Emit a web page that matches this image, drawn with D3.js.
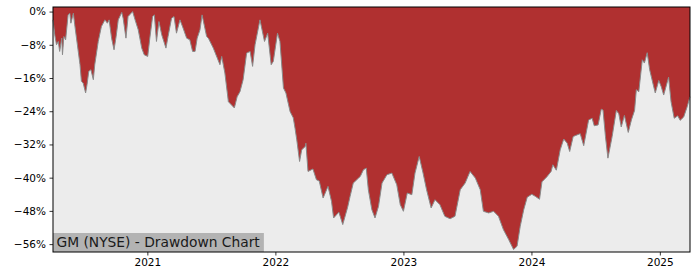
<!DOCTYPE html>
<html>
  <head>
    <meta charset="utf-8" />
    <style>
      body { margin: 0; background: #ffffff; }
      #chart { width: 700px; height: 280px; }
      text { font-family: "DejaVu Sans", sans-serif; }
    </style>
  </head>
  <body>
    <div id="chart"></div>
    <script src="https://cdnjs.cloudflare.com/ajax/libs/d3/7.8.5/d3.min.js"></script>
    <script>
    // drawdown values (percent below running peak)
    var dates = [
      "2020-04-07","2020-04-12","2020-04-17","2020-04-22","2020-04-26","2020-05-02","2020-05-04","2020-05-08",
      "2020-05-13","2020-05-20","2020-05-25","2020-05-28","2020-06-04","2020-06-08","2020-06-13","2020-06-18",
      "2020-06-23","2020-06-27","2020-07-02","2020-07-09","2020-07-13","2020-07-18","2020-07-24","2020-07-31",
      "2020-08-04","2020-08-14","2020-08-23","2020-09-02","2020-09-09","2020-09-14","2020-09-21","2020-09-28",
      "2020-10-04","2020-10-10","2020-10-20","2020-10-24","2020-11-01","2020-11-07","2020-11-20","2020-11-27",
      "2020-12-06","2020-12-16","2020-12-23","2021-01-02","2021-01-08","2021-01-16","2021-01-21","2021-01-27",
      "2021-02-03","2021-02-11","2021-02-23","2021-03-01","2021-03-11","2021-03-18","2021-03-25","2021-04-04",
      "2021-04-13","2021-04-23","2021-05-02","2021-05-10","2021-05-17","2021-05-23","2021-05-31","2021-06-06",
      "2021-06-14","2021-06-19","2021-06-24","2021-07-08","2021-07-27","2021-08-01","2021-08-10","2021-08-20",
      "2021-09-06","2021-09-14","2021-09-22","2021-10-01","2021-10-11","2021-10-21","2021-10-28","2021-11-04",
      "2021-11-18","2021-12-01","2021-12-10","2021-12-20","2021-12-26","2022-01-07","2022-01-14","2022-01-24",
      "2022-01-31","2022-02-12","2022-02-21","2022-02-26","2022-03-03","2022-03-11","2022-03-17","2022-03-27",
      "2022-03-29","2022-04-04","2022-04-18","2022-04-28","2022-05-06","2022-05-17","2022-05-31","2022-06-10",
      "2022-06-16","2022-07-01","2022-07-12","2022-07-26","2022-08-02","2022-08-11","2022-08-16","2022-08-26",
      "2022-08-31","2022-09-09","2022-09-17","2022-09-23","2022-10-03","2022-10-12","2022-10-22","2022-11-01",
      "2022-11-15","2022-11-29","2022-12-13","2022-12-23","2023-01-01","2023-01-12","2023-01-25","2023-02-03",
      "2023-02-15","2023-02-26","2023-03-08","2023-03-21","2023-04-01","2023-04-15","2023-04-29","2023-05-14",
      "2023-05-28","2023-06-12","2023-06-26","2023-07-10","2023-07-25","2023-08-08","2023-08-17","2023-09-01",
      "2023-09-15","2023-09-29","2023-10-13","2023-10-28","2023-11-11","2023-11-21","2023-11-30","2023-12-10",
      "2023-12-20","2024-01-02","2024-01-12","2024-01-24","2024-01-31","2024-02-14","2024-02-26","2024-03-02",
      "2024-03-12","2024-03-23","2024-04-02","2024-04-12","2024-04-19","2024-04-29","2024-05-10","2024-05-19",
      "2024-05-29","2024-06-12","2024-06-22","2024-06-28","2024-07-09","2024-07-18","2024-07-23","2024-07-30",
      "2024-08-06","2024-08-18","2024-08-30","2024-09-06","2024-09-13","2024-09-22","2024-10-03","2024-10-12",
      "2024-10-21","2024-10-26","2024-11-02","2024-11-12","2024-11-18","2024-11-26","2024-12-03","2024-12-12",
      "2024-12-19","2024-12-29","2025-01-05","2025-01-12","2025-01-26","2025-02-02","2025-02-11","2025-02-21",
      "2025-02-28","2025-03-10","2025-03-20","2025-03-28"
    ];
    var drawdown = [
      -2.0, -5.6, -8.0, -7.2, -9.6, -6.4, -10.4, -6.0,
      -6.8, -0.8, -0.4, -2.8, -0.4, -3.2, -6.4, -9.6,
      -12.8, -16.8, -17.2, -19.6, -17.6, -14.4, -14.0, -16.4,
      -12.8, -7.2, -3.6, -2.0, -2.8, -2.0, -6.4, -9.2,
      -6.0, -2.0, -0.2, -1.6, -6.4, -1.2, 0.0, -2.0,
      -4.4, -8.8, -10.4, -10.8, -6.4, -1.2, -0.8, -7.2,
      -2.4, -5.6, -8.8, -6.0, -1.6, -1.2, -5.2, -2.0,
      -4.0, -6.4, -6.8, -9.6, -9.6, -6.4, -4.4, -0.8,
      -4.0, -6.0, -6.4, -8.8, -12.8, -10.8, -14.8, -21.7,
      -23.2, -20.5, -19.3, -16.4, -10.0, -9.6, -13.2, -8.0,
      -2.0, -7.2, -5.2, -12.8, -12.0, -5.2, -7.2, -18.4,
      -19.6, -24.1, -25.6, -28.1, -30.9, -36.1, -33.3, -32.5,
      -31.7, -38.5, -37.9, -40.5, -40.8, -44.9, -42.1, -45.7,
      -49.7, -48.3, -51.3, -47.1, -44.5, -41.3, -40.9, -40.1,
      -39.7, -38.1, -37.7, -42.9, -47.7, -49.7, -46.9, -41.3,
      -39.3, -38.9, -41.7, -46.5, -48.1, -43.7, -44.1, -38.9,
      -34.9, -38.9, -42.9, -47.3, -45.3, -46.5, -49.3, -49.9,
      -49.3, -42.9, -41.3, -38.5, -40.1, -42.9, -48.1, -48.5,
      -48.1, -49.3, -52.5, -54.9, -57.3, -56.5, -51.7, -47.7,
      -44.7, -44.0, -44.5, -45.2, -41.0, -39.8, -38.5, -36.9,
      -38.2, -33.3, -30.7, -31.7, -33.7, -30.1, -29.7, -29.4,
      -32.3, -26.1, -25.7, -27.5, -27.3, -23.5, -23.7, -30.1,
      -35.3, -30.1, -23.8, -24.6, -27.8, -25.0, -29.1, -26.1,
      -23.8, -18.8, -19.3, -11.6, -12.4, -9.9, -14.0, -17.2,
      -19.6, -16.6, -18.1, -20.1, -15.8, -21.7, -25.7, -25.1,
      -26.2, -25.4, -22.9, -20.5
    ];
    var yTicks = [0, -8, -16, -24, -32, -40, -48, -56];
    var xTickYears = ["2021", "2022", "2023", "2024", "2025"];
    var title = "GM (NYSE) - Drawdown Chart";

    var width = 700,
        height = 280,
        margin = {top: 7, right: 10, bottom: 28, left: 53};

    var parse = d3.timeParse("%Y-%m-%d");
    var data = dates.map(function(d, i) {
      return {date: parse(d), value: drawdown[i]};
    });

    var svg = d3.select("#chart")
      .append("svg")
      .attr("width", width)
      .attr("height", height);

    var x = d3.scaleTime()
      .domain(d3.extent(data, function(d) { return d.date; }))
      .range([margin.left, width - margin.right]);

    var y = d3.scaleLinear()
      .domain([-57.9, 1.1])
      .range([height - margin.bottom, margin.top]);

    // plot background
    svg.append("rect")
      .attr("x", margin.left)
      .attr("y", margin.top)
      .attr("width", width - margin.left - margin.right)
      .attr("height", height - margin.top - margin.bottom)
      .attr("fill", "#ececec");

    // red fill runs from the top of the axes down to the curve
    var area = d3.area()
      .x(function(d) { return x(d.date); })
      .y0(y(y.domain()[1]))
      .y1(function(d) { return y(d.value); });

    var line = d3.line()
      .x(function(d) { return x(d.date); })
      .y(function(d) { return y(d.value); });

    svg.append("path")
      .datum(data)
      .attr("d", area)
      .attr("fill", "#b03030");

    svg.append("path")
      .datum(data)
      .attr("d", line)
      .attr("fill", "none")
      .attr("stroke", "#8a8a8a")
      .attr("stroke-width", 1);

    // label box
    var label = svg.append("g");
    var labelText = label.append("text")
      .attr("x", margin.left + 3.5)
      .attr("y", height - margin.bottom - 5.5)
      .attr("font-size", "13.8px")
      .attr("fill", "#1a1a1a")
      .text(title);
    var bb = labelText.node().getBBox();
    label.insert("rect", "text")
      .attr("x", margin.left)
      .attr("y", height - margin.bottom - 19)
      .attr("width", bb.width + 7)
      .attr("height", 19)
      .attr("fill", "#b3b3b3");

    // axes
    var yAxis = d3.axisLeft(y)
      .tickValues(yTicks)
      .tickSize(3.5)
      .tickPadding(3.5)
      .tickFormat(function(d) { return (d < 0 ? "\u2212" + (-d) : d) + "%"; });

    var xAxis = d3.axisBottom(x)
      .tickValues(xTickYears.map(function(d) { return parse(d + "-01-01"); }))
      .tickSize(3.5)
      .tickPadding(3.5)
      .tickFormat(d3.timeFormat("%Y"));

    svg.append("g")
      .attr("transform", "translate(" + margin.left + ",0)")
      .call(yAxis)
      .call(function(g) { g.select(".domain").remove(); })
      .selectAll("text")
      .attr("font-size", "10.5px")
      .attr("fill", "#000");

    svg.append("g")
      .attr("transform", "translate(0," + (height - margin.bottom) + ")")
      .call(xAxis)
      .call(function(g) { g.select(".domain").remove(); })
      .selectAll("text")
      .attr("font-size", "10.5px")
      .attr("fill", "#000");

    svg.selectAll(".tick line").attr("stroke", "#000").attr("stroke-width", 0.8);

    // frame
    svg.append("rect")
      .attr("x", margin.left)
      .attr("y", margin.top)
      .attr("width", width - margin.left - margin.right)
      .attr("height", height - margin.top - margin.bottom)
      .attr("fill", "none")
      .attr("stroke", "#000")
      .attr("stroke-width", 1);
    </script>
  </body>
</html>
